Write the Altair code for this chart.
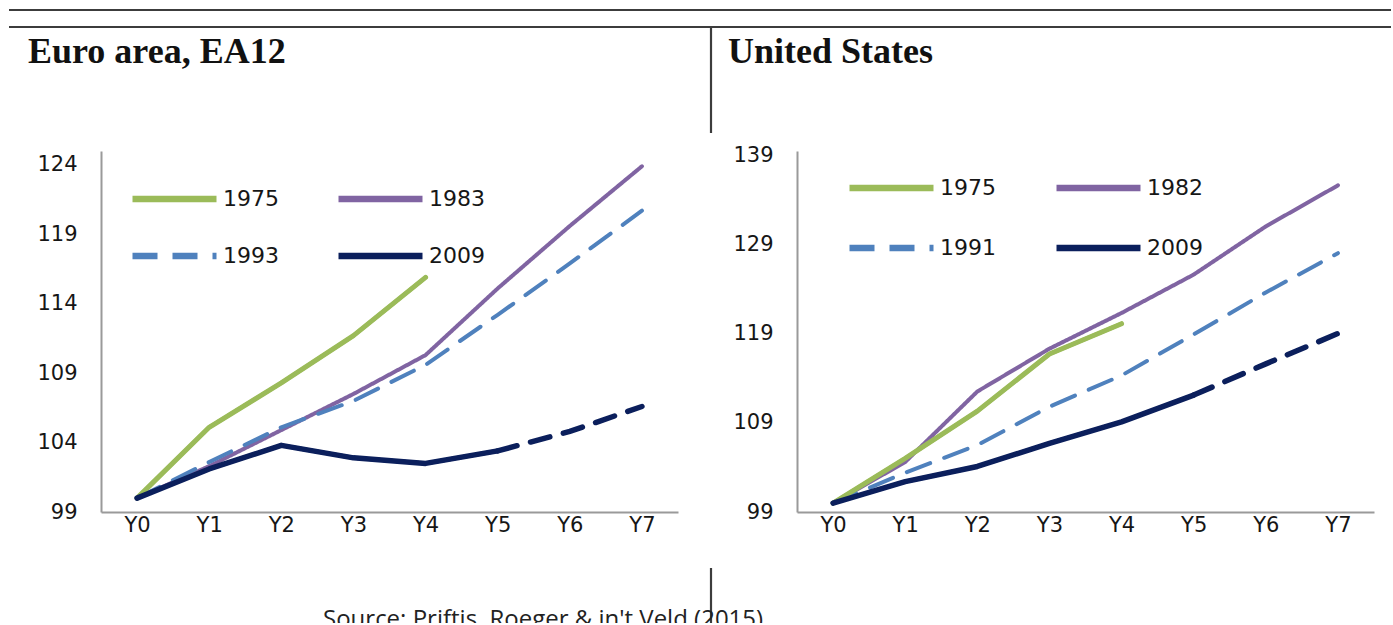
import altair as alt
import pandas as pd

# ---------------- data ----------------
years = ["Y0", "Y1", "Y2", "Y3", "Y4", "Y5", "Y6", "Y7"]

ea_series = ["1975", "1983", "1993", "2009"]
ea_1975 = [100, 105.1, 108.3, 111.7, 115.9]
ea_1983 = [100, 102.3, 104.9, 107.5, 110.3, 115.1, 119.6, 123.9]
ea_1993 = [100, 102.6, 105.1, 107.0, 109.6, 113.2, 116.9, 120.7]
ea_2009 = [100, 102.1, 103.8, 102.9, 102.5, 103.4, 104.8, 106.6]

us_series = ["1975", "1982", "1991", "2009"]
us_1975 = [100, 105.0, 110.3, 116.7, 120.1]
us_1982 = [100, 104.6, 112.5, 117.3, 121.3, 125.6, 131.0, 135.6]
us_1991 = [100, 103.4, 106.5, 110.8, 114.3, 118.9, 123.6, 128.0]
us_2009 = [100, 102.4, 104.1, 106.7, 109.1, 112.1, 115.6, 119.0]

ea_ticks = [99, 104, 109, 114, 119, 124]
us_ticks = [99, 109, 119, 129, 139]

forecast_from = "Y5"   # 2009 crisis path is a projection (dashed) from here on

# ---------------- style ----------------
colors = ["#9BBB59", "#8064A2", "#4F81BD", "#0B1F5C"]
dashes = [[1, 0], [1, 0], [25, 15], [1, 0]]
FONT = "DejaVu Sans"
TXT = "#161616"
AX = "#9a9a9a"

W, H = 577, 361


def build_frames(series, values):
    rows, fc = [], []
    cut = years.index(forecast_from)
    for s, vals in zip(series, values):
        for i, v in enumerate(vals):
            if s == "2009" and i > cut:
                continue
            rows.append({"series": s, "year": years[i], "value": v})
        if s == "2009":
            for i, v in enumerate(vals):
                if i >= cut:
                    fc.append({"year": years[i], "value": v})
    return pd.DataFrame(rows), pd.DataFrame(fc)


def panel(series, values, ydom, yticks, lx, ly, rowpad, colpad, extra):
    main, fc = build_frames(series, values)
    x = alt.X("year:O", sort=years,
              scale=alt.Scale(type="point", domain=years, padding=0.5),
              axis=alt.Axis(title=None, labelAngle=0, ticks=False, grid=False,
                            domainColor=AX, domainWidth=2, labelPadding=2,
                            labelFontSize=21, labelFont=FONT, labelColor=TXT))
    y = alt.Y("value:Q", scale=alt.Scale(domain=ydom, nice=False, zero=False),
              axis=alt.Axis(title=None, values=yticks, ticks=False, grid=False,
                            domainColor=AX, domainWidth=2, labelPadding=24,
                            labelFontSize=21, labelFont=FONT, labelColor=TXT))
    leg = alt.Legend(title=None, orient="none", legendX=lx, legendY=ly, columns=2,
                     direction="horizontal",
                     symbolType="stroke", symbolSize=7056, symbolStrokeWidth=6.5,
                     labelFontSize=22, labelFont=FONT, labelColor=TXT,
                     labelOffset=3, columnPadding=colpad, rowPadding=rowpad,
                     clipHeight=26, padding=0)
    lines = alt.Chart(main).mark_line(strokeCap="round", strokeJoin="round",
                                      strokeWidth=4).encode(
        x=x, y=y,
        color=alt.Color("series:N", scale=alt.Scale(domain=series, range=colors), legend=leg),
        strokeDash=alt.StrokeDash("series:N", scale=alt.Scale(domain=series, range=dashes), legend=leg),
    )
    green = alt.Chart(main).transform_filter(alt.datum.series == series[0]).mark_line(
        color=colors[0], strokeWidth=5, strokeCap="round", strokeJoin="round").encode(x=x, y=y)
    navy = alt.Chart(main).transform_filter(alt.datum.series == series[3]).mark_line(
        color=colors[3], strokeWidth=5.5, strokeCap="round", strokeJoin="round").encode(x=x, y=y)
    fcl = alt.Chart(fc).mark_line(color=colors[3], strokeWidth=5.5, strokeDash=[20, 14],
                                  strokeCap="round").encode(x=x, y=y)
    return alt.layer(*extra, lines, green, navy, fcl).properties(width=W, height=H)


dummy = pd.DataFrame({"a": [0]})


def rule(x1, x2, y1, y2, sw=2.2, color="#3c3c3c", op=1.0):
    return alt.Chart(dummy).mark_rule(color=color, strokeWidth=sw, opacity=op).encode(
        x=alt.value(x1), x2=alt.value(x2), y=alt.value(y1), y2=alt.value(y2))


def text(t, x, y, **kw):
    return alt.Chart(dummy).mark_text(text=t, align="left", baseline="alphabetic", **kw).encode(
        x=alt.value(x), y=alt.value(y))


# decorations, positioned relative to the left plot origin
decor = [
    rule(-100.99, 1290.9, -150.99, -150.99, sw=0.001, color="white", op=0),  # canvas anchor
    rule(-92, 1290, -141, -141),
    rule(-92, 1290, -124, -124),
    rule(610, 610, -124, -18),
    rule(610, 610, 417, 476),
    text("Euro area, EA12", -73, -88, font="Liberation Serif", fontWeight="bold",
         fontSize=36, color="#111111"),
    text("United States", 627, -88, font="Liberation Serif", fontWeight="bold",
         fontSize=36, color="#111111"),
    text("Source: Priftis, Roeger & in't Veld (2015)", 222, 476, font="Open Sans",
         fontSize=24, color="#222222"),
]

left = panel(ea_series, [ea_1975, ea_1983, ea_1993, ea_2009], [99, 125], ea_ticks,
             28, 35, 31, 56, decor)
right = panel(us_series, [us_1975, us_1982, us_1991, us_2009], [99, 139.45], us_ticks,
              49, 24, 34, 57, [])

chart = alt.hconcat(left, right, spacing=119, bounds="flush").resolve_scale(
    x="independent", y="independent", color="independent", strokeDash="independent"
).resolve_legend(color="independent", strokeDash="independent").properties(
    padding={"left": 0, "top": 0, "right": 0, "bottom": -9},
    background="white",
).configure_view(stroke=None)

chart.save("out.html", embed_options={"renderer": "svg", "actions": False})
